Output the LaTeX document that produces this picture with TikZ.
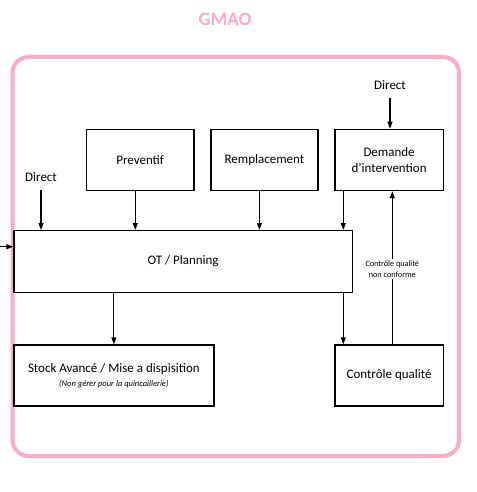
\documentclass[tikz,border=0pt]{standalone}
\usepackage{fontspec}
\setmainfont{Carlito}
\usetikzlibrary{arrows.meta}
\definecolor{gpink}{HTML}{FBAAC8}
\begin{document}
\begin{tikzpicture}[x=1pt,y=-1pt,
 box/.style={draw=black, line width=1.2pt, inner sep=0pt, anchor=north west,
   font=\fontsize{13}{16}\selectfont, align=center},
 arr/.style={-{Triangle[length=7pt,width=5pt]}, line width=1.1pt},
 lbl/.style={font=\fontsize{13}{15}\selectfont},
 small/.style={font=\fontsize{8.2}{11.5}\selectfont, align=center, fill=white, inner sep=1.5pt}]
\useasboundingbox (0,0) rectangle (476,492);
\node[font=\bfseries\fontsize{19}{22}\selectfont, text=gpink] (title) at (225,19) {GMAO};
\node[draw=gpink, line width=4pt, rounded corners=16pt, anchor=north west,
  minimum width=446.5pt, minimum height=399pt, inner sep=0pt] (frame) at (10.5,55) {};
\node[box, minimum width=107.6pt, minimum height=61.3pt] (prev) at (85.7,128.7) {Preventif};
\node[box, minimum width=107pt, minimum height=61.3pt] (rempl) at (210.3,128.7) {Remplacement};
\node[box, minimum width=108.4pt, minimum height=61.3pt] (dem) at (334.3,128.7) {Demande\\d’intervention};
\node[box, minimum width=338.4pt, minimum height=62pt] (ot) at (13.3,230) {OT / Planning};
\node[box, minimum width=200pt, minimum height=61pt] (stock) at (13.3,344.3)
  {Stock Avancé / Mise a dispisition\\[-2pt]{\itshape\fontsize{8.5}{9}\selectfont (Non gérer pour la quincaillerie)}};
\node[box, minimum width=108.4pt, minimum height=61pt] (cq) at (334.3,344.3) {Contrôle qualité};
\node[lbl] (d1) at (41,177) {Direct};
\node[lbl] (d2) at (390,85) {Direct};
\coordinate (lin) at (0,246.7);
\coordinate (cqin) at ([xshift=9pt]cq.north west);
\coordinate (demout) at ([xshift=9pt]dem.south west);
\coordinate (cqout) at ([xshift=3.2pt]cq.north);
\draw[arr] ([yshift=-5pt]d1.south) -- (d1.south |- ot.north);
\draw[arr] ([yshift=-5pt]d2.south) -- (d2.south |- dem.north);
\draw[arr] ([xshift=-4.8pt]prev.south) -- ([xshift=-4.8pt]prev.south |- ot.north);
\draw[arr] ([xshift=-5pt]rempl.south) -- ([xshift=-5pt]rempl.south |- ot.north);
\draw[arr] (demout) -- (demout |- ot.north);
\draw[arr] (ot.south -| stock.north) -- (stock.north);
\draw[arr] (ot.south -| cqin) -- (cqin);
\draw[arr] (cqout) -- (cqout |- dem.south)
  node[pos=0.49, small] (nc) {Contrôle qualité\\non conforme};
\draw[arr] (lin) -- (lin -| ot.west);
\end{tikzpicture}
\end{document}
